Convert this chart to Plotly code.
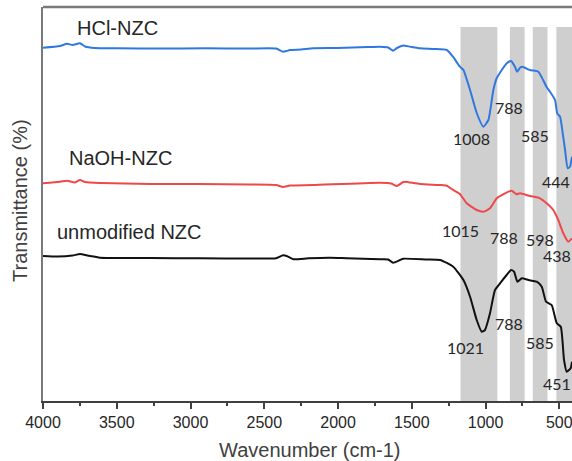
import plotly.graph_objects as go

# ---- data (wavenumber in cm-1, transmittance in arbitrary offset units) ----
hcl_wn = [4000, 3885, 3837, 3800, 3749, 3715, 3650, 3500, 3200, 2900, 2600, 2420, 2373, 2348, 2326,
          2250, 2170, 2000, 1800, 1716, 1660, 1627, 1600, 1558, 1546, 1500, 1444, 1350, 1263, 1221,
          1174, 1150, 1105, 1060, 1015, 981, 947, 924, 890, 856, 827, 800, 786, 765, 750, 700, 642,
          620, 585, 563, 529, 514, 495, 477, 461, 443, 428, 414]
hcl_t = [353.3, 355, 357.3, 356, 357.7, 354.5, 353, 352.7, 352.5, 352.7, 352.5, 352.5, 349.3, 350, 351,
         351.5, 352.7, 353, 354, 354.3, 353.5, 350.3, 353, 355.5, 355.3, 354, 352.7, 352, 351, 344.3,
         334.3, 331, 311, 288, 274.3, 281, 311, 323, 331, 337.7, 340, 334, 329.3, 333.5, 334.3, 331, 329.3,
         324, 313.7, 309.3, 301, 287.7, 284.3, 267.7, 251, 232.7, 234.3, 244.3]

naoh_wn = [4000, 3885, 3837, 3783, 3749, 3715, 3614, 3275, 2936, 2600, 2420, 2373, 2326, 2170, 1716,
           1640, 1602, 1558, 1546, 1444, 1308, 1263, 1219, 1174, 1128, 1060, 1015, 970, 924, 868,
           823, 789, 767, 699, 631, 586, 541, 507, 473, 439, 414]
naoh_t = [217.7, 219.3, 220.3, 218.5, 221, 219, 218, 217, 217, 216.5, 216, 214, 215.5, 216, 218.3,
          217.5, 215, 219, 219.3, 217, 216, 215.3, 211, 207, 197.7, 191, 189.3, 192.7, 202.7, 207.7,
          210.3, 206.7, 207.7, 205, 202.7, 197.7, 191, 181, 167.7, 159.3, 162.7]

unmod_wn = [4000, 3900, 3800, 3749, 3700, 3648, 3614, 3275, 2936, 2600, 2420, 2373, 2348, 2303, 2200,
            2054, 1941, 1716, 1660, 1627, 1580, 1558, 1400, 1308, 1219, 1150, 1105, 1060, 1026, 1004,
            970, 936, 902, 857, 827, 807, 784, 754, 709, 653, 619, 590, 552, 517, 490, 468, 450, 423, 414]
unmod_t = [145, 144.5, 145.5, 147, 145.5, 144.3, 143.3, 143, 142.7, 142.5, 142.7, 145.7, 145, 141.7, 142.7,
           143.3, 142.7, 141.7, 141.5, 138.3, 141, 142.3, 141.5, 141, 134.3, 121, 104.3, 81, 69.3, 71,
           87.7, 111, 117.7, 126, 131, 129.3, 119.3, 122.7, 121, 119.3, 114.3, 99.3, 96, 77.7, 74.3, 41, 29.3, 32.7, 39.3]

bands = [(1170, 920), (835, 735), (680, 580), (520, 400)]

series_names = ["HCl-NZC", "NaOH-NZC", "unmodified NZC"]
series_colors = ["#2f78e0", "#f0484a", "#111111"]

# peak labels: (text, wavenumber position, level)
peak_labels = [("1008", 1092, 263), ("788", 841, 294), ("585", 665, 266), ("444", 522, 220),
               ("1015", 1170, 171), ("788", 875, 164), ("598", 634, 162), ("438", 516, 146),
               ("1021", 1133, 54), ("788", 841, 77.5), ("585", 631, 59), ("451", 516, 18)]
name_pos = [(3492, 373.5), (3478, 243), (3417, 169)]

x_ticks = [4000, 3500, 3000, 2500, 2000, 1500, 1000, 500]

fig = go.Figure()
for wn, t, name, col in zip([hcl_wn, naoh_wn, unmod_wn], [hcl_t, naoh_t, unmod_t], series_names, series_colors):
    fig.add_trace(go.Scatter(x=wn, y=t, mode="lines", name=name,
                             line=dict(color=col, width=2, shape="spline", smoothing=0.5),
                             showlegend=False))

for a, b in bands:
    fig.add_shape(type="rect", xref="x", yref="y", x0=a, x1=b, y0=0, y1=374,
                  fillcolor="#cfcfcf", line=dict(width=0), layer="below")

# top border
fig.add_shape(type="line", xref="paper", yref="paper", x0=0, x1=1, y0=1, y1=1,
              line=dict(color="#7a7a7a", width=2.5))

for (txt, xw, yl) in peak_labels:
    fig.add_annotation(x=xw, y=yl, xref="x", yref="y", text=txt, showarrow=False,
                       font=dict(family="Lato", size=16, color="#262626"),
                       xanchor="center", yanchor="middle")

for name, (xw, yl) in zip(series_names, name_pos):
    fig.add_annotation(x=xw, y=yl, xref="x", yref="y", text=name, showarrow=False,
                       font=dict(family="Liberation Sans", size=20, color="#262626"),
                       xanchor="center", yanchor="middle")

fig.add_annotation(xref="paper", yref="paper", x=(20 - 43) / 529, y=0.5076,
                   text="Transmittance (%)", textangle=-90, showarrow=False,
                   font=dict(family="Liberation Sans", size=20, color="#404040"),
                   xanchor="center", yanchor="middle")
fig.add_annotation(xref="paper", yref="paper", x=(309.5 - 43) / 529, y=(401 - 450) / 394,
                   text="Wavenumber (cm-1)", showarrow=False,
                   font=dict(family="Liberation Sans", size=20, color="#404040"),
                   xanchor="center", yanchor="middle")

fig.update_layout(
    width=572, height=461,
    margin=dict(l=43, r=0, t=7, b=60, autoexpand=False),
    paper_bgcolor="white", plot_bgcolor="white",
    xaxis=dict(range=[4000, 414], tickvals=x_ticks, ticktext=[str(v) for v in x_ticks],
               ticks="outside", ticklen=6, tickwidth=1.5, tickcolor="#404040",
               ticklabeloverflow="allow",
               showline=True, linecolor="#404040", linewidth=1.5,
               showgrid=False, zeroline=False,
               tickfont=dict(family="Liberation Sans", size=16, color="#262626"),
               minor=dict(tickvals=[3750, 3250, 2750, 2250, 1750, 1250, 750], ticks="outside",
                          ticklen=3, tickwidth=1.5, tickcolor="#404040", showgrid=False)),
    yaxis=dict(range=[0, 394], showline=True, linecolor="#7a7a7a", linewidth=2,
               showticklabels=False, ticks="", showgrid=False, zeroline=False),
)

fig.write_html("out.html")
